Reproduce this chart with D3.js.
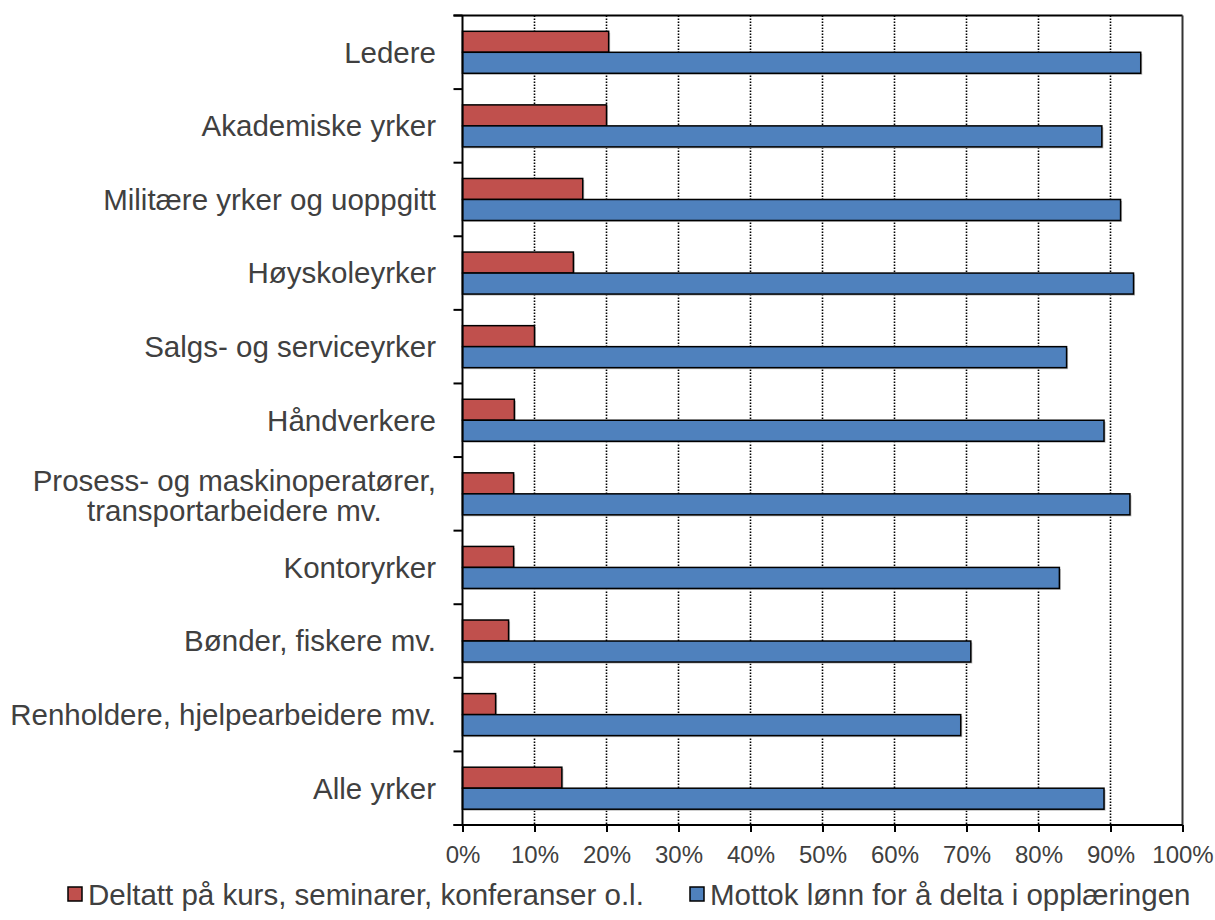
<!DOCTYPE html>
<html>
<head>
<meta charset="utf-8">
<script src="https://cdn.jsdelivr.net/npm/d3@7"></script>
<style>
  body { margin: 0; background: #fff; }
  text { font-family: "Liberation Sans", Arial, sans-serif; fill: #404040; }
</style>
</head>
<body>
<svg id="chart" width="1215" height="920"></svg>
<script>
const categories = [
  "Ledere",
  "Akademiske yrker",
  "Militære yrker og uoppgitt",
  "Høyskoleyrker",
  "Salgs- og serviceyrker",
  "Håndverkere",
  "Prosess- og maskinoperatører,|transportarbeidere mv.",
  "Kontoryrker",
  "Bønder, fiskere mv.",
  "Renholdere, hjelpearbeidere mv.",
  "Alle yrker"
];
const seriesNames = ["Deltatt på kurs, seminarer, konferanser o.l.", "Mottok lønn for å delta i opplæringen"];
const kursValues = [20.3, 20.0, 16.7, 15.4, 10.0, 7.2, 7.1, 7.1, 6.4, 4.6, 13.8];
const lonnValues = [94.2, 88.8, 91.4, 93.2, 83.9, 89.1, 92.7, 82.9, 70.6, 69.2, 89.1];
const xTicks = [0, 10, 20, 30, 40, 50, 60, 70, 80, 90, 100];
const colors = ["#C0504D", "#4F81BD"];

const svg = d3.select("#chart");
const pL = 462.5, pR = 1182.5, pT = 15.5, pB = 825;
const catFont = 29.5;

const x = d3.scaleLinear().domain([0, 100]).range([pL, pR]);
const y = d3.scaleBand().domain(categories).range([pT, pB]).padding(0);
const ySub = d3.scaleBand().domain([0, 1]).range([0, y.bandwidth()]).paddingInner(0).paddingOuter(0.752);

// gridlines
svg.append("g").selectAll("line").data(xTicks.filter(t => t > 0 && t < 100)).join("line")
  .attr("x1", d => x(d)).attr("x2", d => x(d))
  .attr("y1", pT).attr("y2", pB)
  .attr("stroke", "#000").attr("stroke-width", 1.6).attr("stroke-dasharray", "1.6,1.4");

// plot border (top & right)
svg.append("line").attr("x1", pL - 9).attr("x2", pR).attr("y1", pT).attr("y2", pT)
  .attr("stroke", "#000").attr("stroke-width", 2);
svg.append("line").attr("x1", pR).attr("x2", pR).attr("y1", pT).attr("y2", pB)
  .attr("stroke", "#333").attr("stroke-width", 2);

// bars
const rows = categories.map((c, i) => ({ c, vals: [kursValues[i], lonnValues[i]] }));
const groups = svg.append("g").selectAll("g").data(rows).join("g")
  .attr("transform", d => `translate(0,${y(d.c)})`);
groups.selectAll("rect.shadow").data(d => d.vals.map((v, k) => ({ v, k }))).join("rect")
  .attr("class", "shadow")
  .attr("x", x(0) + 1.5).attr("y", d => ySub(d.k) + 1.5)
  .attr("width", d => x(d.v) - x(0)).attr("height", ySub.bandwidth())
  .attr("fill", "#bbb");
groups.selectAll("rect.bar").data(d => d.vals.map((v, k) => ({ v, k }))).join("rect")
  .attr("class", "bar")
  .attr("x", x(0)).attr("y", d => ySub(d.k))
  .attr("width", d => x(d.v) - x(0)).attr("height", ySub.bandwidth())
  .attr("fill", d => colors[d.k]).attr("stroke", "#000").attr("stroke-width", 1.5);

// y axis
const yAxisG = svg.append("g");
yAxisG.append("line").attr("x1", pL).attr("x2", pL).attr("y1", pT).attr("y2", pB)
  .attr("stroke", "#000").attr("stroke-width", 2);
const boundaries = categories.map(c => y(c)).concat([pB]);
yAxisG.selectAll("line.tick").data(boundaries).join("line").attr("class", "tick")
  .attr("x1", pL - 9).attr("x2", pL).attr("y1", d => d).attr("y2", d => d)
  .attr("stroke", "#000").attr("stroke-width", 2);

const labelX = 436;
categories.forEach(c => {
  const lines = c.split("|");
  const cy = y(c) + y.bandwidth() / 2;
  if (lines.length === 1) {
    svg.append("text").attr("font-size", catFont).attr("text-anchor", "end")
      .attr("x", labelX).attr("y", cy).attr("dy", "0.35em").text(lines[0]);
  } else {
    const tmp = svg.append("text").attr("font-size", catFont).text(lines[0]);
    const w = tmp.node().getComputedTextLength();
    tmp.remove();
    const mid = labelX - w / 2;
    lines.forEach((ln, i) => {
      svg.append("text").attr("font-size", catFont).attr("text-anchor", "middle")
        .attr("x", mid).attr("y", cy + 2 + (i - 0.5) * 30).attr("dy", "0.35em").text(ln);
    });
  }
});

// x axis
const xAxis = d3.axisBottom(x).tickValues(xTicks).tickFormat(d => d + "%").tickSize(7).tickSizeOuter(0);
const xg = svg.append("g").attr("transform", `translate(0,${pB})`).call(xAxis);
xg.select(".domain").remove();
xg.selectAll(".tick line").attr("stroke", "#000").attr("stroke-width", 2);
xg.selectAll(".tick text").attr("font-size", 24).attr("font-family", "Liberation Sans, Arial, sans-serif")
  .attr("fill", "#404040").attr("y", 38).attr("dy", 0);
svg.append("line").attr("x1", pL - 9).attr("x2", pR).attr("y1", pB).attr("y2", pB)
  .attr("stroke", "#000").attr("stroke-width", 2);

// legend
const legendX = [68, 690];
seriesNames.forEach((n, i) => {
  svg.append("rect").attr("x", legendX[i]).attr("y", 887).attr("width", 14).attr("height", 14)
    .attr("fill", colors[i]).attr("stroke", "#000").attr("stroke-width", 1.5);
  svg.append("text").attr("x", legendX[i] + 20).attr("y", 905).attr("font-size", 29.5).text(n);
});
</script>
</body>
</html>
